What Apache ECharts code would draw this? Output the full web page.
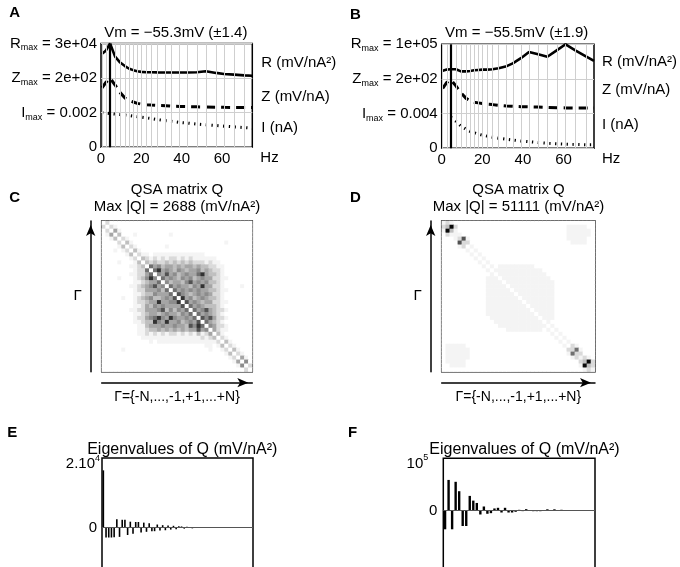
<!DOCTYPE html>
<html>
<head>
<meta charset="utf-8">
<title>QSA</title>
<script src="https://cdn.jsdelivr.net/npm/echarts@6/dist/echarts.min.js"></script>
<style>
    html, body { margin: 0; padding: 0; background: #fff; }
    #chart { width: 680px; height: 567px; }
</style>
</head>
<body>
<div id="chart"></div>
<script>
// frequencies of the stimulation (Hz)
var freqs = [0.5, 2.5, 4.5, 7, 9.5, 12, 14, 16, 18, 20, 22.5, 25, 28, 32, 35, 39, 43, 47.5, 52, 57, 61, 66, 71, 75];
var xTicks = [0, 20, 40, 60];

// panel A (normalised, R in band 2-3, Z in band 1-2, I in band 0-1)
var rA = [2.70, 2.80, 3.00, 2.62, 2.45, 2.34, 2.27, 2.23, 2.20, 2.18, 2.17, 2.17, 2.165, 2.16, 2.16, 2.16, 2.16, 2.17, 2.20, 2.15, 2.12, 2.10, 2.08, 2.07];
var zA = [1.72, 1.88, 2.00, 1.80, 1.58, 1.42, 1.35, 1.31, 1.27, 1.25, 1.23, 1.22, 1.21, 1.20, 1.19, 1.18, 1.175, 1.17, 1.165, 1.16, 1.155, 1.15, 1.15, 1.15];
var iA = [1.00, 0.99, 0.975, 0.96, 0.945, 0.93, 0.915, 0.90, 0.885, 0.87, 0.85, 0.83, 0.80, 0.77, 0.75, 0.72, 0.70, 0.67, 0.65, 0.63, 0.61, 0.59, 0.57, 0.55];
var peakA = 4.3;
var leftA = ['0', 'I{sub|max} = 0.002', 'Z{sub|max} = 2e+02', 'R{sub|max} = 3e+04'];

// panel B
var rB = [2.24, 2.27, 2.28, 2.28, 2.22, 2.22, 2.23, 2.25, 2.26, 2.27, 2.27, 2.28, 2.31, 2.37, 2.45, 2.60, 2.78, 2.71, 2.64, 2.84, 3.00, 2.82, 2.65, 2.52];
var zB = [1.73, 1.90, 1.98, 1.80, 1.60, 1.44, 1.37, 1.33, 1.31, 1.29, 1.27, 1.26, 1.24, 1.22, 1.21, 1.20, 1.195, 1.19, 1.18, 1.17, 1.165, 1.16, 1.16, 1.16];
var iB = [null, null, 0.90, 0.78, 0.64, 0.55, 0.49, 0.45, 0.41, 0.38, 0.35, 0.32, 0.29, 0.26, 0.24, 0.21, 0.19, 0.165, 0.145, 0.13, 0.12, 0.11, 0.10, 0.10];
var peakB = 4.6;
var leftB = ['0', 'I{sub|max} = 0.004', 'Z{sub|max} = 2e+02', 'R{sub|max} = 1e+05'];

var unitNames = ['I (nA)', 'Z (mV/nA)', 'R (mV/nA²)'];

// QSA matrices, grey level 0 (white) .. 9 (black), one string per row (top row first)
var qC = [
    '02000000000 00000000000000000 0000000000',
    '20210000000 00000000000000000 0000000000',
    '02041000000 00000000000000000 0000000000',
    '01403000100 00000010000000000 0000000000',
    '00130210000 00000000000000000 0000000000',
    '00002031000 00000000000000000 0001000000',
    '00001302100 00000100000000000 0000000000',
    '00010120310 00000000000000000 0000000000',
    '00000013021 10111111111111100 0000000000',
    '00000001203 21212122121211111 1000000000',
    '00001000130 32322323232322212 1100000000',
    '00000001123 06453443434434332 2110000000',
    '00000000122 60684543543445343 2210000000',
    '00000001122 46054745345446843 3210000000',
    '00001000123 58506454354534544 2211000000',
    '00000000112 34460534435745453 3210000000',
    '00000001123 45745064544354844 2210000100',
    '00000000122 44453606454545443 3211000000',
    '00000000112 33544460754345454 2210000000',
    '00000100123 45334547084534543 3210000000',
    '00000000122 34484455807454344 2211000000',
    '00000000112 43545444470645433 3210000000',
    '00000001122 44457353546064574 3221000000',
    '00000000112 34434544354606454 3210000000',
    '00000000122 45685485445460757 4221000000',
    '00000000112 33854844534547064 3210000000',
    '00000000011 34445445443758605 4221000000',
    '00000000011 23343434343447450 4211000000',
    '00000000011 21212122121213124 0310000000',
    '00000000001 11111111111111212 3021000000',
    '00000000000 01011111111111111 1203100000',
    '00000000000 00000000000000011 0130210000',
    '00000100000 00000000000000001 0012031000',
    '00000000000 00000000000000000 0001302100',
    '00000000000 00000000000000000 0000120410',
    '00000000000 00000000000000000 0000014050',
    '00000000000 00000000000000000 0000001502',
    '00000000000 00000000000000000 0000000020'
];
var qD = [
    '1210000000 0000000000 0000000000 00000000',
    '2392000000 0000000000 0000000000 01111100',
    '1931000000 0000000000 0000000000 01111110',
    '0211100000 0000000000 0000000000 01111110',
    '0001271000 0000000000 0000000000 01111100',
    '0000722000 0000000000 0000000000 00111100',
    '0000120100 0000000000 0000000000 00000000',
    '0000001010 0000000000 0000000000 00000000',
    '0000000101 0000000000 0000000000 00000000',
    '0000000010 1000000000 0000000000 00000000',
    '0000000001 0100000000 0000000000 00000000',
    '0000000000 1010111111 1110000000 00000000',
    '0000000000 0101111111 1111100000 00000000',
    '0000000000 0010111111 1111110000 00000000',
    '0000000000 0111011111 1111111000 00000000',
    '0000000000 0111101111 1111111100 00000000',
    '0000000000 0111110111 1111111100 00000000',
    '0000000000 0111111011 1111111100 00000000',
    '0000000000 0111111101 1111111100 00000000',
    '0000000000 0111111110 1111111100 00000000',
    '0000000000 0111111111 0111111100 00000000',
    '0000000000 0111111111 1011111100 00000000',
    '0000000000 0111111111 1101111100 00000000',
    '0000000000 0111111111 1110111100 00000000',
    '0000000000 0011111111 1111011100 00000000',
    '0000000000 0001111111 1111101000 00000000',
    '0000000000 0000111111 1111110100 00000000',
    '0000000000 0000001111 1111101010 00000000',
    '0000000000 0000000000 0000000101 00000000',
    '0000000000 0000000000 0000000010 10000000',
    '0000000000 0000000000 0000000001 01000000',
    '0111110000 0000000000 0000000000 10210000',
    '0111111000 0000000000 0000000000 02261000',
    '0111111000 0000000000 0000000000 01622000',
    '0111111000 0000000000 0000000000 00121210',
    '0111110000 0000000000 0000000000 00002392',
    '0011110000 0000000000 0000000000 00001932',
    '0000000000 0000000000 0000000000 00000121'
];
var grayRamp = ['#ffffff', '#f4f4f4', '#dadada', '#bfbfbf', '#a5a5a5', '#8c8c8c', '#707070', '#525252', '#323232', '#0a0a0a'];

// eigenvalues of Q (mV/nA^2)
var eigE = [18100, -3100, -3100, -3100, -3000, 2700, -2900, 2500, 2500, -2300, 1900, -1900, 1800, 1800, -1500, 1600, -1300, 1400, -1100, -1100, 1000, -900, 800, -800, 700, -600, 600, -500, 450, 400, -300, 300, 200, -200, 150, 200, -100, 100];
var eigF = [-40000, 65000, -40000, 61000, 41000, -33000, -33000, 31000, 21000, 16000, -8500, 8500, -7000, -5700, 4300, 5700, -4300, 5700, -4300, -4300, -2800, 1400, -1400, 2800, -1000, -1500, -1500, -1500, -1000, 2500, -1000, 2500, -1000, 1500, -500, 300, -300, 200];

var FONT = '"Liberation Sans", Arial, Helvetica, sans-serif';

/**
 * [freq, value] pairs for a line
 */
function pairs(xs, ys) {
    var out = [];
    for (var i = 0; i < xs.length; i++) {
        out.push([xs[i], ys[i]]);
    }
    return out;
}

/**
 * heatmap cells from the row strings, row 0 on top
 */
function matrixData(rows) {
    var out = [];
    var n = rows.length;
    for (var r = 0; r < n; r++) {
        var s = rows[r].replace(/ /g, '');
        for (var c = 0; c < s.length; c++) {
            out.push([c, n - 1 - r, +s.charAt(c)]);
        }
    }
    return out;
}

function barData(vals) {
    var out = [];
    for (var i = 0; i < vals.length; i++) {
        out.push([i + 1, vals[i]]);
    }
    return out;
}

var cells = [];
for (var k = 0; k < qC.length; k++) {
    cells.push(k);
}

var richSub = {
    sub: { fontSize: 9, fontFamily: FONT, color: '#000', verticalAlign: 'bottom', lineHeight: 18 },
    sup: { fontSize: 9, fontFamily: FONT, color: '#000', verticalAlign: 'top', lineHeight: 20 },
    g: { width: 3 },
    g9: { width: 9 }
};

function freqAxis(grid) {
    return {
        type: 'value', gridIndex: grid, min: 0, max: 75, interval: 20,
        axisLine: { show: false }, axisTick: { show: false }, splitLine: { show: false },
        axisLabel: { color: '#000', fontSize: 15, fontFamily: FONT, margin: 4, customValues: xTicks },
        name: 'Hz', nameLocation: 'end', nameGap: 8,
        nameTextStyle: { color: '#000', fontSize: 15, fontFamily: FONT, verticalAlign: 'top', padding: [3, 0, 0, 0] }
    };
}

function bandAxis(grid, names) {
    return {
        type: 'value', gridIndex: grid, min: 0, max: 3, interval: 1,
        axisLine: { show: false }, axisTick: { show: false },
        splitLine: { show: true, lineStyle: { color: '#cfcfcf', width: 1 } },
        axisLabel: {
            color: '#000', fontSize: 15, fontFamily: FONT, margin: 4, rich: richSub,
            formatter: function (v) { return names[Math.round(v)]; }
        }
    };
}

function unitAxis(grid, pos, margin) {
    return {
        type: 'value', gridIndex: grid, position: 'right', min: 0, max: 3,
        axisLine: { show: false }, axisTick: { show: false }, splitLine: { show: false },
        axisLabel: {
            color: '#000', fontSize: 15, fontFamily: FONT, margin: margin,
            customValues: pos,
            formatter: function (v) { return unitNames[pos.indexOf(v)] || ''; }
        }
    };
}

function arrowAxis(grid, isX, name, gap) {
    var ax = {
        type: 'category', gridIndex: grid, data: cells, offset: 11,
        axisLine: {
            show: true, onZero: false, symbol: ['none', 'arrow'], symbolSize: [7, 11], symbolOffset: [0, -4],
            lineStyle: { color: '#000', width: 1.5 }
        },
        axisTick: { show: false }, axisLabel: { show: false }, splitLine: { show: false },
        name: name, nameLocation: 'middle', nameGap: gap,
        nameTextStyle: { color: '#000', fontSize: 15, fontFamily: FONT }
    };
    if (isX) {
        ax.position = 'bottom';
        ax.nameTextStyle.fontSize = 14;
    } else {
        ax.position = 'left';
        ax.nameRotate = 0;
    }
    return ax;
}

function tickAxis(grid, pos, vals) {
    return {
        type: 'value', gridIndex: grid, position: pos, min: -0.5, max: 37.5,
        axisLine: { show: false, onZero: false }, axisLabel: { show: false }, splitLine: { show: false },
        axisTick: { show: true, inside: true, length: 3, customValues: vals, lineStyle: { color: '#000', width: 1 } }
    };
}

function gridLines(xAxis, yAxis, data) {
    return {
        type: 'line', xAxisIndex: xAxis, yAxisIndex: yAxis, data: data, silent: true, z: 1,
        showSymbol: false, lineStyle: { opacity: 0 },
        markLine: {
            silent: true, symbol: ['none', 'none'], label: { show: false },
            lineStyle: { color: '#cfcfcf', width: 1, type: 'solid' },
            data: freqs.slice(0, freqs.length - 1).map(function (f) { return { xAxis: f }; })
        }
    };
}

function curve(xAxis, yAxis, data, style, peak) {
    var s = {
        type: 'line', xAxisIndex: xAxis, yAxisIndex: yAxis, data: data, z: 3,
        showSymbol: false, silent: true, lineStyle: style
    };
    if (peak != null) {
        s.markLine = {
            silent: true, symbol: ['none', 'none'], label: { show: false },
            lineStyle: { color: '#000', width: 2.2, type: 'solid' },
            data: [{ xAxis: peak }]
        };
    }
    return s;
}

var solid = { color: '#000', width: 2.6, type: 'solid' };
var dashed = { color: '#000', width: 3, type: [9, 6], cap: 'butt' };
var dotted = { color: '#000', width: 3, type: [1.3, 4.5], cap: 'butt' };

function eigSeries(xAxis, yAxis, vals, bw) {
    return {
        type: 'bar', xAxisIndex: xAxis, yAxisIndex: yAxis, data: barData(vals),
        barWidth: bw, itemStyle: { color: '#000' }, silent: true, z: 3,
        markLine: {
            silent: true, symbol: ['none', 'none'], label: { show: false },
            lineStyle: { color: '#555', width: 1, type: 'solid' },
            data: [{ yAxis: 0 }]
        }
    };
}

function txt(x, y, text, size, bold, align) {
    return {
        type: 'text', x: x, y: y, silent: true,
        style: {
            text: text, fill: '#000',
            font: (bold ? 'bold ' : '') + size + 'px ' + FONT,
            align: align || 'left', verticalAlign: align ? 'middle' : 'top'
        }
    };
}

var box = { show: true, borderColor: '#000', borderWidth: 1.5, backgroundColor: 'transparent', outerBoundsMode: 'none' };
function grid(l, t, w, h) {
    var g = { left: l, top: t, width: w, height: h };
    for (var key in box) { g[key] = box[key]; }
    return g;
}

var myChart = echarts.init(document.getElementById('chart'), null, { renderer: 'canvas' });
var option = {
    animation: false,
    backgroundColor: '#fff',
    textStyle: { fontFamily: FONT },
    grid: [
        grid(101, 43.5, 151.3, 103.8),
        grid(441.7, 44.3, 152.3, 104),
        grid(101.7, 221, 150.6, 150.7),
        grid(441.7, 221, 153.3, 150.7),
        grid(102, 458, 151, 139.4),
        grid(443.3, 458.3, 151.7, 127.4)
    ],
    xAxis: [
        freqAxis(0),
        freqAxis(1),
        arrowAxis(2, true, 'Γ={-N,...,-1,+1,...+N}', 7),
        tickAxis(2, 'bottom', [4, 14, 24, 34]),
        tickAxis(2, 'top', [4, 14, 24, 34]),
        arrowAxis(3, true, 'Γ={-N,...,-1,+1,...+N}', 7),
        tickAxis(3, 'bottom', [4, 14, 24, 34]),
        tickAxis(3, 'top', [4, 14, 24, 34]),
        { type: 'value', gridIndex: 4, min: 0.5, max: 56.5, show: false },
        { type: 'value', gridIndex: 5, min: 0.5, max: 43.5, show: false }
    ],
    yAxis: [
        bandAxis(0, leftA),
        unitAxis(0, [0.55, 1.46, 2.43], 9),
        bandAxis(1, leftB),
        unitAxis(1, [0.67, 1.68, 2.5], 8),
        arrowAxis(2, false, 'Γ', 9),
        tickAxis(2, 'left', [3, 13, 23, 33]),
        tickAxis(2, 'right', [3, 13, 23, 33]),
        arrowAxis(3, false, 'Γ', 9),
        tickAxis(3, 'left', [3, 13, 23, 33]),
        tickAxis(3, 'right', [3, 13, 23, 33]),
        {
            type: 'value', gridIndex: 4, min: -22000, max: 22000,
            axisLine: { show: false }, axisTick: { show: false }, splitLine: { show: false },
            axisLabel: {
                color: '#000', fontSize: 15, fontFamily: FONT, margin: 2, rich: richSub,
                customValues: [0, 20000],
                formatter: function (v) { return v === 0 ? '0{g| }' : '2.10{sup|4}'; }
            }
        },
        {
            type: 'value', gridIndex: 5, min: -160000, max: 111000,
            axisLine: { show: false }, axisTick: { show: false }, splitLine: { show: false },
            axisLabel: {
                color: '#000', fontSize: 15, fontFamily: FONT, margin: 6, rich: richSub,
                customValues: [0, 100000],
                formatter: function (v) { return v === 0 ? '0' : '10{sup|5}{g9| }'; }
            }
        }
    ],
    visualMap: {
        type: 'continuous', show: false, min: 0, max: 9, dimension: 2,
        seriesIndex: [8, 9], inRange: { color: grayRamp }
    },
    series: [
        gridLines(0, 0, pairs(freqs, iA)),
        curve(0, 0, pairs(freqs, rA), solid, peakA),
        curve(0, 0, pairs(freqs, zA), dashed),
        curve(0, 0, pairs(freqs, iA), dotted),
        gridLines(1, 2, pairs(freqs, iB)),
        curve(1, 2, pairs(freqs, rB), solid, peakB),
        curve(1, 2, pairs(freqs, zB), dashed),
        curve(1, 2, pairs(freqs, iB), dotted),
        { type: 'heatmap', xAxisIndex: 2, yAxisIndex: 4, data: matrixData(qC), progressive: 0, silent: true, z: 2 },
        { type: 'heatmap', xAxisIndex: 5, yAxisIndex: 7, data: matrixData(qD), progressive: 0, silent: true, z: 2 },
        eigSeries(8, 10, eigE, 1.6),
        eigSeries(9, 11, eigF, 2.4)
    ],
    graphic: [
        txt(9.3, 5.6, 'A', 15, true),
        txt(350, 7.3, 'B', 15, true),
        txt(9.3, 190.3, 'C', 15, true),
        txt(350, 190.3, 'D', 15, true),
        txt(7.3, 425.3, 'E', 15, true),
        txt(348, 425.3, 'F', 15, true),
        txt(175.8, 32.5, 'Vm = −55.3mV (±1.4)', 15, false, 'center'),
        txt(516.7, 32.5, 'Vm = −55.5mV (±1.9)', 15, false, 'center'),
        txt(177, 190, 'QSA matrix Q', 15, false, 'center'),
        txt(177, 207, 'Max |Q| = 2688 (mV/nA²)', 15, false, 'center'),
        txt(518.5, 190, 'QSA matrix Q', 15, false, 'center'),
        txt(518.5, 207, 'Max |Q| = 51111 (mV/nA²)', 15, false, 'center'),
        txt(182.3, 449.5, 'Eigenvalues of Q (mV/nA²)', 16, false, 'center'),
        txt(524.5, 449.5, 'Eigenvalues of Q (mV/nA²)', 16, false, 'center')
    ]
};
myChart.setOption(option);
</script>
</body>
</html>
